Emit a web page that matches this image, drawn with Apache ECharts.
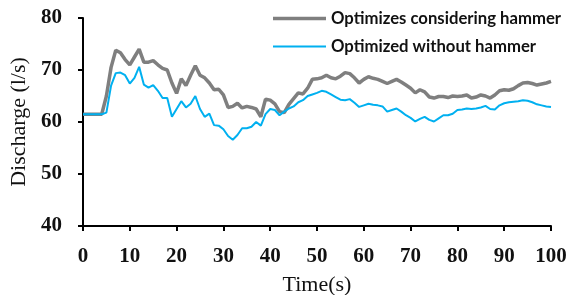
<!DOCTYPE html>
<html><head><meta charset="utf-8">
<script src="https://cdn.jsdelivr.net/npm/echarts@6/dist/echarts.min.js"></script>
<style>html,body{margin:0;padding:0;background:#fff}#c{width:571px;height:295px}</style>
</head><body><div id="c"></div>
<script>
var seriesNames = ['Optimizes considering hammer', 'Optimized without hammer'];
var xTicks = [0,10,20,30,40,50,60,70,80,90,100];
var yTicks = [40,50,60,70,80];
var time = [];
for (var i = 0; i <= 100; i++) time.push(i);
var withHammer = [61.5,61.5,61.5,61.5,61.5,65,70.5,73.8,73.3,72,71,72.5,74,71.5,71.5,71.8,71,70.3,70,67.5,
65.5,68.3,67,69,70.8,69,68.5,67.5,66.2,66.3,65.2,62.8,63,63.6,62.7,63,62.8,62.5,61,64.4,
64.2,63.5,62,61.8,63.4,64.5,65.6,65.4,66.5,68.2,68.3,68.5,69,68.5,68.3,68.8,69.5,69.3,68.5,67.5,
68.2,68.7,68.4,68.2,67.8,67.4,67.8,68.2,67.7,67.1,66.5,65.6,66.2,65.8,64.8,64.6,64.9,64.9,64.7,65,
64.9,65,65.2,64.6,64.8,65.2,65,64.6,65.2,66,66.2,66.1,66.4,67,67.5,67.6,67.4,67.1,67.3,67.5,67.8];
var withoutHammer = [61.5,61.5,61.5,61.5,61.5,61.8,67,69.4,69.5,69,67.4,68.5,70.6,67.2,66.6,67.1,66,64.6,64.6,61,
62.5,64,62.8,63.5,65,62.5,61,61.6,59.4,59.3,58.6,57.3,56.6,57.5,58.8,58.8,59.1,60,59.3,61.5,
62.5,62.3,61.3,62,62.6,63,63.8,64.2,65,65.3,65.6,66,65.8,65.3,64.8,64.3,64.2,64.4,63.7,62.9,
63.2,63.5,63.3,63.2,63,62,62.3,62.6,62,61.3,60.8,60.1,60.6,61,60.4,60.1,60.7,61.3,61.3,61.6,
62.3,62.4,62.6,62.5,62.6,62.8,63.1,62.5,62.4,63.2,63.6,63.8,63.9,64,64.2,64.1,63.8,63.4,63.2,63,62.9];

function pairs(v){ return time.map(function(t,i){ return [t, v[i]]; }); }

var serif = 'Liberation Serif';
var chart = echarts.init(document.getElementById('c'), null, {renderer:'canvas'});
var legendText = {fontFamily:'Lato', fontWeight:'bold', fontSize:16.7, color:'#111'};
chart.setOption({
  animation:false,
  grid:{left:83, right:20, top:18, bottom:69, containLabel:false, outerBoundsMode:'none'},
  legend:[
    {data:[seriesNames[0]], left:273, top:10, padding:0, icon:'rect', itemWidth:53, itemHeight:3.5, textStyle:legendText},
    {data:[seriesNames[1]], left:273, top:38, padding:0, icon:'rect', itemWidth:53, itemHeight:2, textStyle:legendText}
  ],
  xAxis:{type:'value', min:xTicks[0], max:xTicks[xTicks.length-1], interval:10,
    name:'Time(s)', nameLocation:'middle', nameGap:48,
    nameTextStyle:{fontFamily:serif, fontSize:22, color:'#111'},
    axisLine:{lineStyle:{color:'#000', width:2}},
    axisTick:{length:5, lineStyle:{color:'#000', width:2}},
    axisLabel:{fontFamily:serif, fontWeight:'bold', fontSize:21, color:'#111', margin:20},
    splitLine:{show:false}},
  yAxis:{type:'value', min:yTicks[0], max:yTicks[yTicks.length-1], interval:10,
    name:'Discharge (l/s)', nameLocation:'middle', nameGap:51,
    nameTextStyle:{fontFamily:serif, fontSize:22, color:'#111'},
    axisLine:{show:true, lineStyle:{color:'#000', width:2}},
    axisTick:{show:true, length:5, lineStyle:{color:'#000', width:2}},
    axisLabel:{fontFamily:serif, fontWeight:'bold', fontSize:21, color:'#111', margin:21},
    splitLine:{show:false}},
  series:[
    {name:seriesNames[0], type:'line', data:pairs(withHammer), showSymbol:false, symbol:'none',
     lineStyle:{color:'#7f7f7f', width:3.5}, itemStyle:{color:'#7f7f7f'}},
    {name:seriesNames[1], type:'line', data:pairs(withoutHammer), showSymbol:false, symbol:'none',
     lineStyle:{color:'#00b0f0', width:2}, itemStyle:{color:'#00b0f0'}}
  ]
});
</script></body></html>
